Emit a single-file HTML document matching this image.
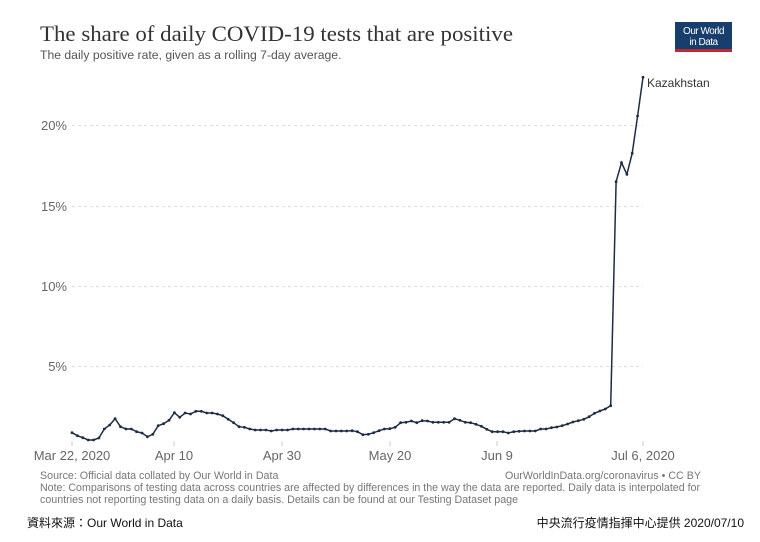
<!DOCTYPE html>
<html><head><meta charset="utf-8"><style>
body{margin:0;background:#fff;width:760px;height:537px;overflow:hidden;font-family:"Liberation Sans",sans-serif;}
</style></head><body>
<svg width="760" height="537" xmlns="http://www.w3.org/2000/svg" font-family="Liberation Sans, sans-serif">
<text x="40" y="41" font-family="Liberation Serif, serif" font-size="22" fill="#333" textLength="473" lengthAdjust="spacingAndGlyphs">The share of daily COVID-19 tests that are positive</text>
<text x="40" y="59" font-size="12.2" fill="#555">The daily positive rate, given as a rolling 7-day average.</text>
<rect x="675" y="22" width="57" height="30" fill="#173e6d"/>
<rect x="675" y="49" width="57" height="3" fill="#c0282e"/>
<text x="703.5" y="34" font-size="10" fill="#fff" text-anchor="middle" letter-spacing="-0.5">Our World</text>
<text x="703.5" y="45" font-size="10" fill="#fff" text-anchor="middle" letter-spacing="-0.5">in Data</text>
<g stroke="#ddd" stroke-dasharray="3,3" stroke-width="1">
<line x1="72" x2="643" y1="125.5" y2="125.5"/>
<line x1="72" x2="643" y1="206.5" y2="206.5"/>
<line x1="72" x2="643" y1="286.5" y2="286.5"/>
<line x1="72" x2="643" y1="366.5" y2="366.5"/>
</g>
<g font-size="13" fill="#666" text-anchor="end">
<text x="67" y="130">20%</text><text x="67" y="211">15%</text><text x="67" y="291">10%</text><text x="67" y="371">5%</text>
</g>
<g stroke="#ccc"><line x1="72" x2="72" y1="441" y2="446"/><line x1="174" x2="174" y1="441" y2="446"/><line x1="282" x2="282" y1="441" y2="446"/><line x1="390" x2="390" y1="441" y2="446"/><line x1="497" x2="497" y1="441" y2="446"/><line x1="643" x2="643" y1="441" y2="446"/></g>
<g font-size="13" fill="#666" text-anchor="middle">
<text x="72" y="460">Mar 22, 2020</text><text x="174" y="460">Apr 10</text><text x="282" y="460">Apr 30</text><text x="390" y="460">May 20</text><text x="497" y="460">Jun 9</text><text x="643" y="460">Jul 6, 2020</text>
</g>
<g id="s"></g>
<text x="647" y="87" font-size="12" fill="#333">Kazakhstan</text>
<g font-size="10.7" fill="#777">
<text x="40" y="479">Source: Official data collated by Our World in Data</text>
<text x="701" y="479" text-anchor="end">OurWorldInData.org/coronavirus • CC BY</text>
<text x="40" y="491" textLength="660" lengthAdjust="spacingAndGlyphs">Note: Comparisons of testing data across countries are affected by differences in the way the data are reported. Daily data is interpolated for</text>
<text x="40" y="503">countries not reporting testing data on a daily basis. Details can be found at our Testing Dataset page</text>
</g>
<text x="27" y="527" font-size="12" fill="#111" font-family="Liberation Sans, Noto Sans CJK TC, sans-serif">資料來源：Our World in Data</text>
<text x="744" y="527" font-size="12" fill="#111" text-anchor="end" font-family="Liberation Sans, Noto Sans CJK TC, sans-serif">中央流行疫情指揮中心提供 2020/07/10</text>
</svg>
<script>
var ys=[432.7,435.7,437.7,440,440,438,429,425,418.7,426.7,429,429,431.7,433,436.7,434.3,425.7,423.7,420.3,412.7,417.3,413,414,411.3,411.3,413,413,414,415.7,419.3,422.7,426.7,427.3,429,430,430,430,431,430,430,430,429,429,429,429,429,429,429,431,431,431,431,430.7,431.7,434.7,434.3,432.7,430.7,429,428.7,427.3,422.7,422.3,421,422.7,420.7,421,422.3,422.3,422.3,422.3,418.7,420.3,422.3,422.7,424.3,426.3,429.3,431.7,431.7,431.7,433,431.7,431.3,431,431,431,429,429,427.7,427,425.7,424,422,420.7,419.3,416.7,413.3,411,409,405.7,181.7,162.7,174.3,153.3,116,77.3];
var p=[],c='';
ys.forEach(function(y,i){var x=72+i*5.387;p.push(x.toFixed(1)+','+y);c+='<circle cx="'+x.toFixed(1)+'" cy="'+y+'" r="1.4" fill="#1d2d44"/>';});
document.getElementById('s').innerHTML='<polyline points="'+p.join(' ')+'" fill="none" stroke="#1d2d44" stroke-width="1.5"/>'+c;
</script>
</body></html>
